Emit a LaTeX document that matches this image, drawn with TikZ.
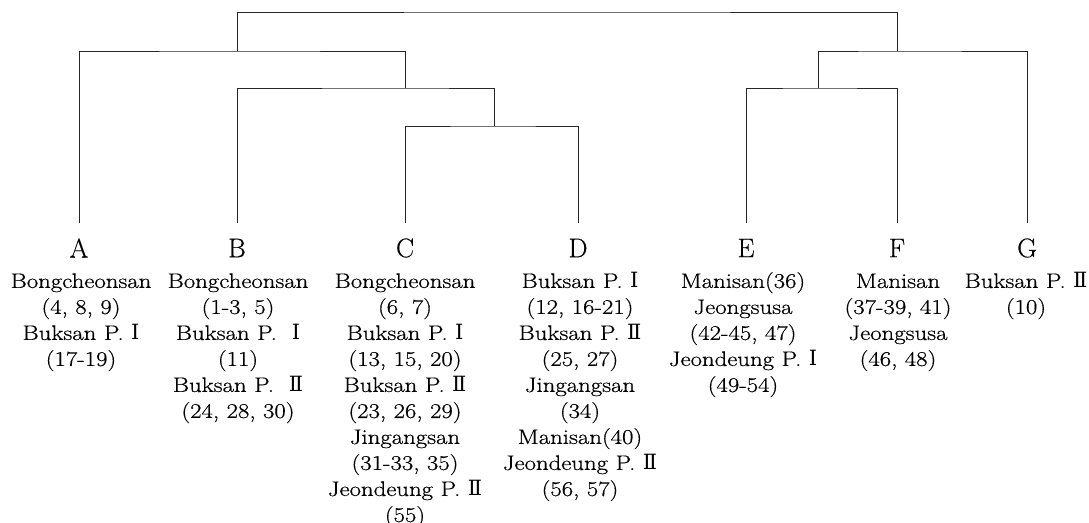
\documentclass[tikz,border=0pt]{standalone}
\usepackage{fontspec}
\newfontfamily\descfont{Latin Modern Roman}[FakeStretch=1.18, FakeBold=0.6]
\newfontfamily\letterfont{Latin Modern Roman}[FakeBold=0.3]
\newfontfamily\rnfont{DejaVu Serif}
\newcommand\rI{{\rnfont Ⅰ}}
\newcommand\rII{{\rnfont Ⅱ}}
\begin{document}
\begin{tikzpicture}[x=1pt,y=1pt,
  tree/.style={line width=0.9pt, draw=black!85},
  leaf/.style={font=\letterfont\fontsize{27}{30}\selectfont, inner sep=0pt},
  desc/.style={font=\descfont\fontsize{21}{26}\selectfont, align=center, anchor=north, inner sep=0pt}]
\useasboundingbox (0,0) rectangle (1089,-522);
% leaf letters
\node[leaf] (A) at (79,-248) {A};
\node[leaf] (B) at (237,-248) {B};
\node[leaf] (C) at (405,-248) {C};
\node[leaf] (D) at (578,-248) {D};
\node[leaf] (E) at (746,-248) {E};
\node[leaf] (F) at (897,-248) {F};
\node[leaf] (G) at (1027,-248) {G};
% leaf tops
\coordinate (lA) at (79,-223);
\coordinate (lB) at (237,-223);
\coordinate (lC) at (405,-223);
\coordinate (lD) at (578,-223);
\coordinate (lE) at (746,-223);
\coordinate (lF) at (897,-223);
\coordinate (lG) at (1027,-223);
% joins
\coordinate (cd) at (494,-126);
\coordinate (bcd) at (405,-88);
\coordinate (abcd) at (237,-51);
\coordinate (ef) at (818,-88);
\coordinate (efg) at (897,-51);
\coordinate (root) at (567,-12);
\draw[tree] (lC) |- (cd) -| (lD);
\draw[tree] (lB) |- (bcd) -| (cd);
\draw[tree] (lA) |- (abcd) -| (bcd);
\draw[tree] (lE) |- (ef) -| (lF);
\draw[tree] (ef) |- (efg) -| (lG);
\draw[tree] (abcd) |- (root) -| (efg);
% descriptions
\node[desc] (tA) at (81,-272) {\vphantom{(}Bongcheonsan\\(4, 8, 9)\\Buksan P. \rI\\(17-19)};
\node[desc] (tB) at (238,-272) {\vphantom{(}Bongcheonsan\\(1-3, 5)\\Buksan P.\ \ \rI\\(11)\\Buksan P.\ \ \rII\\(24, 28, 30)};
\node[desc] (tC) at (405,-272) {\vphantom{(}Bongcheonsan\\(6, 7)\\Buksan P. \rI\\(13, 15, 20)\\Buksan P. \rII\\(23, 26, 29)\\Jingangsan\\(31-33, 35)\\Jeondeung P. \rII\\(55)};
\node[desc] (tD) at (580,-272) {\vphantom{(}Buksan P. \rI\\(12, 16-21)\\Buksan P. \rII\\(25, 27)\\Jingangsan\\(34)\\Manisan(40)\\Jeondeung P. \rII\\(56, 57)};
\node[desc] (tE) at (743,-272) {\vphantom{(}Manisan(36)\\Jeongsusa\\(42-45, 47)\\Jeondeung P. \rI\\(49-54)};
\node[desc] (tF) at (898,-272) {\vphantom{(}Manisan\\(37-39, 41)\\Jeongsusa\\(46, 48)};
\node[desc] (tG) at (1026,-272) {\vphantom{(}Buksan P. \rII\\(10)};
\end{tikzpicture}
\end{document}
